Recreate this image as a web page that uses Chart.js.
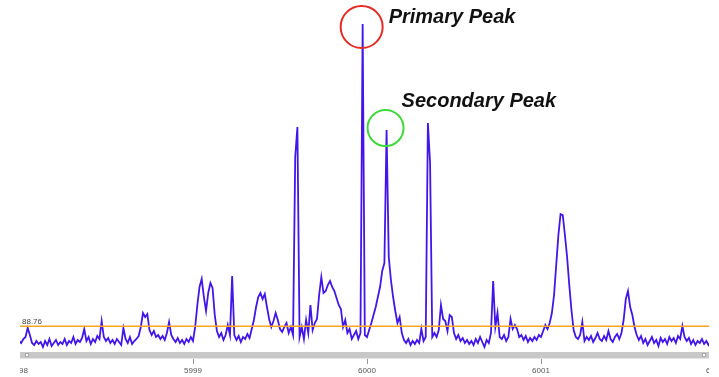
<!DOCTYPE html>
<html>
<head>
<meta charset="utf-8">
<script src="https://cdn.jsdelivr.net/npm/chart.js@4.4.0/dist/chart.umd.min.js"></script>
<style>
  html, body { margin: 0; padding: 0; background: #fff; }
  #frame { position: absolute; left: 20px; top: 0; width: 689px; height: 377px; overflow: hidden; }
  #spectrum { position: absolute; left: -20px; top: 0; }
</style>
</head>
<body>
<div id="frame"><canvas id="spectrum" width="719" height="377"></canvas></div>
<script>
// m/z sampling grid
var mzStart = 5998;
var mzStep = 0.0125;

// intensity trace, one value per grid step
var intensity = [
  74, 72, 76, 78, 87, 80, 72, 70, 74, 71,
  73, 68, 74, 70, 76, 69, 72, 75, 70, 73,
  71, 76, 70, 74, 72, 78, 71, 75, 73, 77,
  86, 74, 78, 71, 76, 73, 79, 76, 94, 78,
  74, 77, 72, 75, 71, 76, 73, 70, 87, 76,
  72, 78, 71, 74, 76, 79, 88, 102, 98, 101,
  85, 80, 84, 78, 80, 76, 79, 75, 82, 93,
  80, 76, 73, 77, 72, 75, 71, 76, 73, 78,
  74, 88, 110, 128, 136, 118, 104, 122, 132, 127,
  100, 84, 78, 82, 75, 80, 90, 80, 139, 80,
  75, 79, 73, 78, 76, 81, 77, 86, 95, 108,
  118, 122, 116, 121, 108, 96, 88, 94, 102, 95,
  86, 83, 88, 92, 82, 88, 80, 258, 288, 78,
  88, 76, 95, 82, 110, 85, 92, 96, 120, 138,
  122, 124, 130, 134, 128, 124, 117, 110, 106, 88,
  95, 82, 86, 76, 80, 84, 76, 82, 391, 80,
  78, 85, 92, 100, 108, 118, 128, 144, 152, 285,
  158, 135, 118, 104, 92, 98, 82, 75, 72, 76,
  70, 74, 71, 75, 72, 86, 74, 78, 292, 252,
  78, 82, 78, 85, 110, 96, 94, 84, 100, 98,
  82, 76, 80, 74, 77, 72, 75, 71, 74, 70,
  76, 72, 78, 73, 68, 75, 72, 82, 134, 88,
  102, 78, 76, 80, 74, 78, 96, 86, 90, 86,
  78, 80, 75, 79, 73, 77, 74, 78, 75, 80,
  78, 84, 90, 86, 92, 102, 120, 150, 180, 201,
  200, 180, 158, 130, 105, 85, 78, 76, 80, 93,
  74, 78, 75, 79, 73, 77, 82, 76, 74, 79,
  75, 84, 76, 73, 78, 81, 76, 82, 95, 116,
  124, 108, 100, 88, 80, 75, 79, 72, 76, 70,
  74, 78, 72, 75, 69, 77, 73, 76, 71, 78,
  74, 77, 72, 79, 76, 89, 78, 74, 77, 71,
  75, 70, 74, 72, 76, 71, 74, 70, 73
];

var threshold = 88.76;
var tickValues = [5998, 5999, 6000, 6001, 6002];
var peakNames = ['Primary Peak', 'Secondary Peak'];
var peakIndex = [158, 169];

var mz = intensity.map(function (v, i) { return +(mzStart + i * mzStep).toFixed(4); });
var points = intensity.map(function (v, i) { return { x: mz[i], y: v }; });

// circle + caption style for each marked peak
var peakStyle = [
  { color: '#e62a25', radius: 21, dy: 3, size: 20, tx: 26, ty: -1 },
  { color: '#3fd83a', radius: 18, dy: -2, size: 20, tx: 15, ty: -23 }
];

var viewLeft = 20, viewRight = 709;

var overlay = {
  id: 'overlay',
  afterDatasetsDraw: function (chart) {
    var ctx = chart.ctx, xs = chart.scales.x, ys = chart.scales.y, area = chart.chartArea;
    ctx.save();

    // threshold value
    ctx.font = '8px "Liberation Sans", Arial, sans-serif';
    ctx.fillStyle = '#444';
    ctx.fillText(threshold.toFixed(2), viewLeft + 2, ys.getPixelForValue(threshold) - 2);

    // scroll strip under the plot
    var sy = area.bottom - 7;
    ctx.fillStyle = '#c8c8c8';
    ctx.fillRect(viewLeft, sy, viewRight - viewLeft, 6);
    ctx.fillStyle = '#e4e4e4';
    ctx.fillRect(viewLeft, sy + 6, viewRight - viewLeft, 1);
    ctx.fillStyle = '#fff';
    ctx.strokeStyle = '#aaa';
    ctx.lineWidth = 1;
    ctx.fillRect(viewLeft + 5, sy + 1, 4, 4);
    ctx.strokeRect(viewLeft + 5.5, sy + 1.5, 3, 3);
    ctx.fillRect(viewRight - 7, sy + 1, 4, 4);
    ctx.strokeRect(viewRight - 6.5, sy + 1.5, 3, 3);

    // peak circles and captions
    peakIndex.forEach(function (idx, k) {
      var st = peakStyle[k];
      var px = xs.getPixelForValue(mz[idx]);
      var py = ys.getPixelForValue(intensity[idx]);
      ctx.beginPath();
      ctx.arc(px - 1, py + st.dy, st.radius, 0, Math.PI * 2);
      ctx.strokeStyle = st.color;
      ctx.lineWidth = 2;
      ctx.stroke();
      ctx.font = 'italic bold ' + st.size + 'px "Liberation Sans", Arial, sans-serif';
      ctx.fillStyle = '#111';
      ctx.fillText(peakNames[k], px + st.tx, py + st.ty);
    });
    ctx.restore();
  }
};

var ctx = document.getElementById('spectrum').getContext('2d');
var chart = new Chart(ctx, {
  type: 'line',
  data: {
    datasets: [{
      label: 'threshold',
      data: [{ x: tickValues[0], y: threshold }, { x: tickValues[tickValues.length - 1], y: threshold }],
      borderColor: '#f5a623',
      borderWidth: 1.5,
      pointRadius: 0
    }, {
      label: 'intensity',
      data: points,
      borderColor: '#4216ea',
      borderWidth: 1.8,
      pointRadius: 0,
      tension: 0
    }]
  },
  options: {
    responsive: false,
    animation: false,
    layout: { padding: { left: 19, right: 4, top: 20, bottom: 0 } },
    plugins: { legend: { display: false }, tooltip: { enabled: false } },
    scales: {
      x: {
        type: 'linear',
        min: tickValues[0],
        max: tickValues[tickValues.length - 1],
        afterBuildTicks: function (s) {
          s.ticks = tickValues.map(function (v) { return { value: v }; });
        },
        afterFit: function (s) {
          s.paddingLeft = 0;
          s.paddingRight = 0;
          s.height = 18;
        },
        grid: { drawOnChartArea: false, tickLength: 5, color: '#999' },
        border: { display: false },
        ticks: {
          autoSkip: false,
          maxRotation: 0,
          padding: 2,
          color: '#555',
          font: { family: '"Liberation Sans", Arial, sans-serif', size: 8 },
          callback: function (v) { return String(v); }
        }
      },
      y: { display: false, min: 56, max: 395 }
    }
  },
  plugins: [overlay]
});
</script>
</body>
</html>
